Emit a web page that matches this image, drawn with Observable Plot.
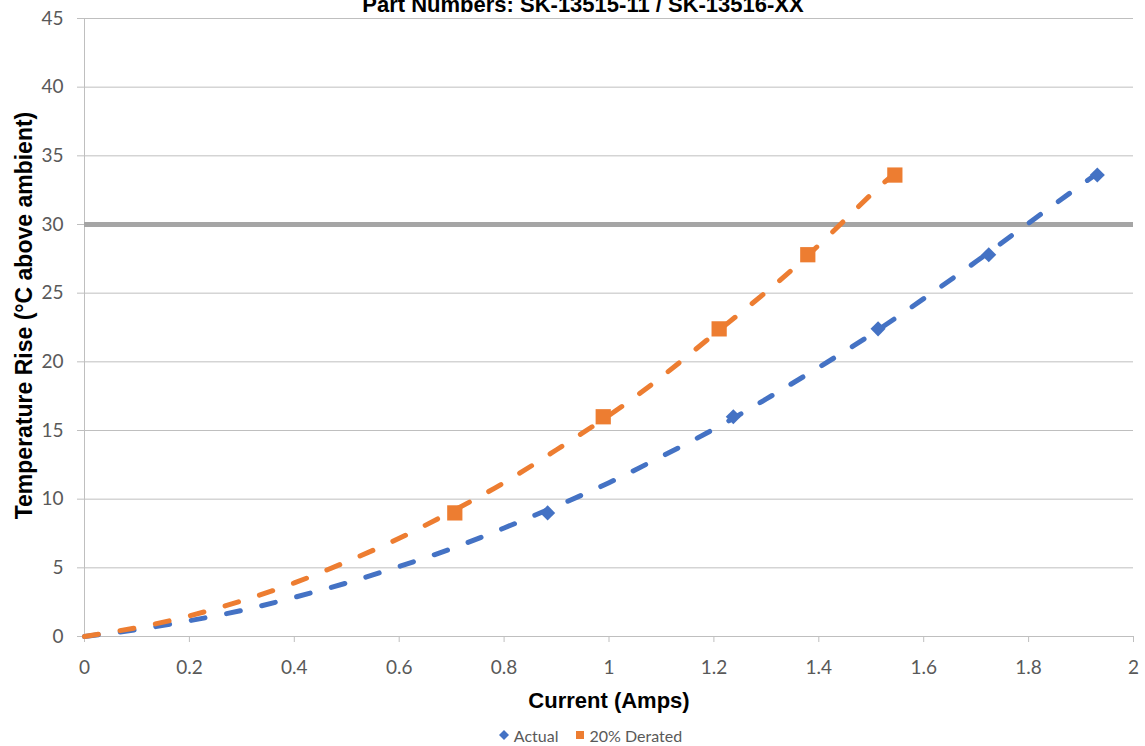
<!DOCTYPE html>
<html>
<head>
<meta charset="utf-8">
<script src="https://cdn.jsdelivr.net/npm/d3@7"></script>
<script src="https://cdn.jsdelivr.net/npm/@observablehq/plot@0.6"></script>
<style>
  html, body { margin: 0; padding: 0; background: #fff; overflow: hidden; }
  #chart svg { display: block; }
  #legend { height: 22px; display: flex; justify-content: center; align-items: center; gap: 16px;
    font-family: Lato, "Noto Sans", sans-serif; font-size: 16px; color: #595959; padding-left: 36px; }
  #legend .item { display: flex; align-items: center; gap: 5px; }
</style>
</head>
<body>
<div id="chart"></div>
<div id="legend"></div>
<script>
// ---- data ----
const chartTitle = "Part Numbers: SK-13515-11 / SK-13516-XX";
const xTitle = "Current (Amps)";
const yTitle = "Temperature Rise (°C above ambient)";
const seriesNames = ["Actual", "20% Derated"];
const seriesColors = ["#4472C4", "#ED7D31"];

const actualCurrent = [0.883, 1.237, 1.513, 1.724, 1.931];
const actualTemp    = [9.0, 16.0, 22.4, 27.8, 33.6];
const deratedCurrent = [0.706, 0.989, 1.210, 1.379, 1.545];
const deratedTemp    = [9.0, 16.0, 22.4, 27.8, 33.6];

// trendlines
const actualTrendCurrent = [0, 0.1, 0.2, 0.3, 0.4, 0.5, 0.6, 0.7, 0.8, 0.9, 1.0, 1.1, 1.2, 1.3, 1.4, 1.5, 1.6, 1.7, 1.8, 1.93];
const actualTrendTemp    = [0, 0.5, 1.15, 1.9, 2.85, 3.9, 5.1, 6.4, 7.9, 9.5, 11.2, 13.1, 15.1, 17.3, 19.6, 22.0, 24.6, 27.3, 30.1, 33.7];
const deratedTrendCurrent = [0, 0.1, 0.2, 0.3, 0.4, 0.5, 0.6, 0.7, 0.8, 0.9, 1.0, 1.1, 1.2, 1.3, 1.4, 1.5, 1.545];
const deratedTrendTemp    = [0, 0.65, 1.5, 2.6, 3.9, 5.45, 7.15, 9.1, 11.2, 13.6, 16.1, 18.9, 22.0, 25.1, 28.5, 32.2, 33.7];

const limitTemp = [30];

const xTicks = [0, 0.2, 0.4, 0.6, 0.8, 1, 1.2, 1.4, 1.6, 1.8, 2];
const yTicks = [0, 5, 10, 15, 20, 25, 30, 35, 40, 45];

// ---- build tables ----
const actual = actualCurrent.map((x, i) => ({x, y: actualTemp[i]}));
const derated = deratedCurrent.map((x, i) => ({x, y: deratedTemp[i]}));
const actualTrend = actualTrendCurrent.map((x, i) => ({x, y: actualTrendTemp[i]}));
const deratedTrend = deratedTrendCurrent.map((x, i) => ({x, y: deratedTrendTemp[i]}));

const grid = "#bfbfbf";
const tickColor = "#595959";
const boldFont = "'Liberation Sans', Arial, sans-serif";

const dashOpts = {x: "x", y: "y", strokeWidth: 5, strokeDasharray: "14,22", strokeLinecap: "round", curve: "natural"};

const plot = Plot.plot({
  width: 1145,
  height: 724,
  marginTop: 18,
  marginLeft: 84,
  marginRight: 12,
  marginBottom: 88,
  style: {fontFamily: "Lato, 'Noto Sans', sans-serif", fontSize: "19px", background: "#fff", overflow: "visible"},
  x: {domain: [0, 2]},
  y: {domain: [0, 45]},
  marks: [
    Plot.gridY(yTicks, {stroke: grid, strokeOpacity: 1, strokeWidth: 1}),
    Plot.ruleX([0], {stroke: grid, strokeWidth: 1}),
    Plot.axisX(xTicks, {tickSize: 6, tickPadding: 18, stroke: grid, strokeOpacity: 1, fill: tickColor, fontSize: 19, label: null, tickFormat: d => String(d)}),
    Plot.axisY(yTicks, {tickSize: 7, tickPadding: 14, stroke: grid, strokeOpacity: 1, fill: tickColor, fontSize: 19, label: null}),
    Plot.ruleY(limitTemp, {stroke: "#A5A5A5", strokeWidth: 5}),
    Plot.line(actualTrend, {...dashOpts, stroke: seriesColors[0]}),
    Plot.line(deratedTrend, {...dashOpts, stroke: seriesColors[1]}),
    Plot.dot(actual, {x: "x", y: "y", symbol: "diamond2", r: 6.8, fill: seriesColors[0], stroke: null}),
    Plot.dot(derated, {x: "x", y: "y", symbol: "square", r: 8.6, fill: seriesColors[1], stroke: null}),
    Plot.text([xTitle], {frameAnchor: "bottom", dy: 64, lineAnchor: "middle", text: d => d, fontSize: 22, fontWeight: "bold", fontFamily: boldFont, fill: "#000"}),
    Plot.text([yTitle], {frameAnchor: "left", dx: -60, dy: -12, rotate: -90, textAnchor: "middle", lineAnchor: "middle", text: d => d, fontSize: 23, fontWeight: "bold", fontFamily: boldFont, fill: "#000"}),
    Plot.text([chartTitle], {frameAnchor: "top", dx: -26, dy: -7, lineAnchor: "bottom", text: d => d, fontSize: 22, fontWeight: "bold", fontFamily: boldFont, fill: "#000"})
  ]
});
document.getElementById("chart").appendChild(plot);

// ---- legend ----
const legend = d3.select("#legend");
const shapes = ["diamond", "square"];
seriesNames.forEach((name, i) => {
  const item = legend.append("span").attr("class", "item");
  const s = item.append("svg").attr("width", 10).attr("height", 10);
  if (shapes[i] === "diamond") {
    s.append("path").attr("d", "M5,0L10,5L5,10L0,5Z").attr("fill", seriesColors[i]);
  } else {
    s.append("rect").attr("x", 1).attr("y", 1).attr("width", 8).attr("height", 8).attr("fill", seriesColors[i]);
  }
  item.append("span").text(name);
});
</script>
</body>
</html>
